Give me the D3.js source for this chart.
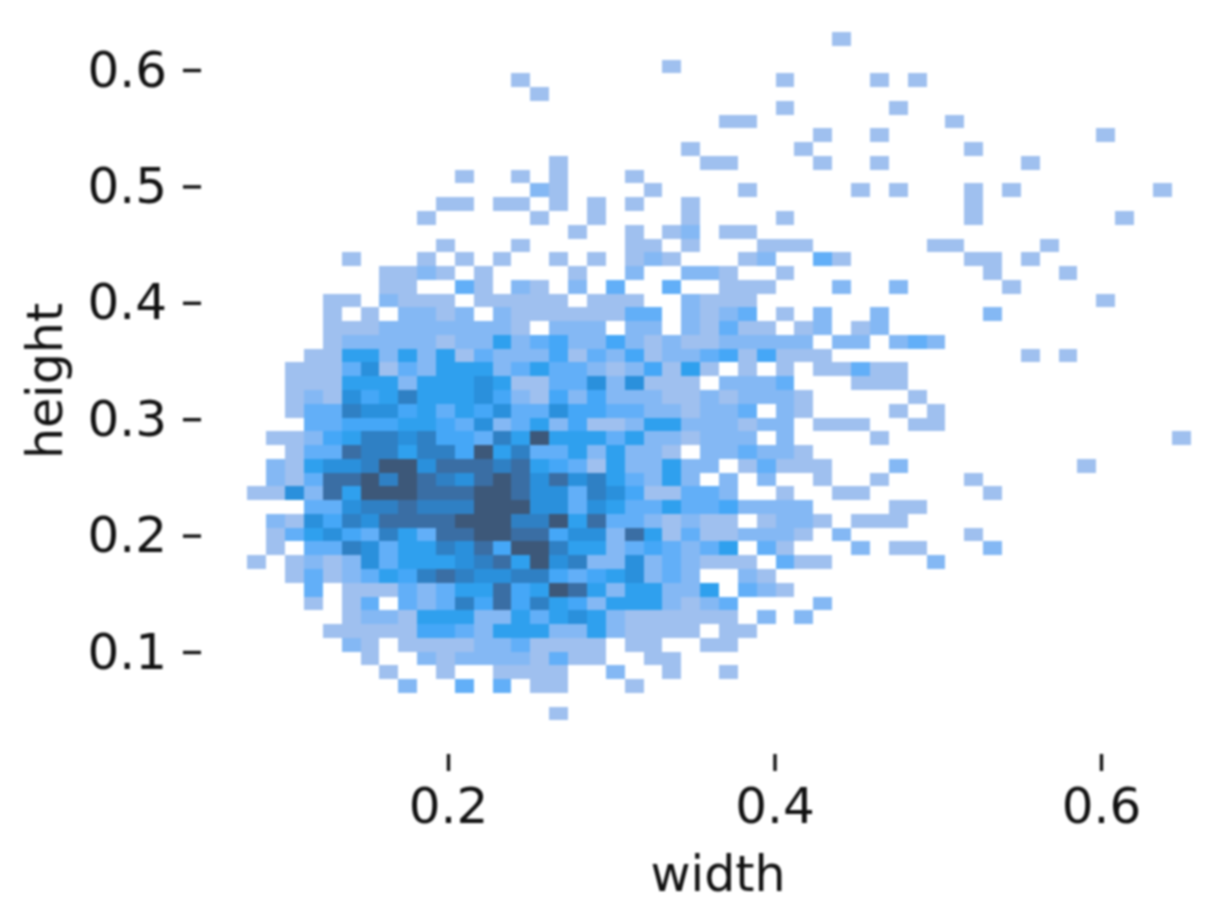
<!DOCTYPE html>
<html>
<head>
<meta charset="utf-8">
<script src="https://cdnjs.cloudflare.com/ajax/libs/d3/7.8.5/d3.min.js"></script>
<style>
html,body{margin:0;padding:0;background:#fff;}
svg{display:block;filter:blur(0.9px);}
text{font-family:"DejaVu Sans",sans-serif;fill:#111;}
</style>
</head>
<body>
<svg id="chart" width="1230" height="919"></svg>
<script>
// Axis labels and ticks
const xLabel = "width";
const yLabel = "height";
const xTicks = [0.2, 0.4, 0.6];
const yTicks = [0.1, 0.2, 0.3, 0.4, 0.5, 0.6];
// Histogram bin extents (data units)
const widthRange = [0.0771, 0.6549];
const heightRange = [0.0412, 0.6326];
// Count shade per bin: one string per height bin (top to bottom), 50 width bins each
const countRows = [
"0000000000 0000000000 0000000000 0100000000 0000000000",
"0000000000 0000000000 0000000000 0000000000 0000000000",
"0000000000 0000000000 0010000000 0000000000 0000000000",
"0000000000 0000100000 0000000010 0001010000 0000000000",
"0000000000 0000010000 0000000000 0000000000 0000000000",
"0000000000 0000000000 0000000010 0000100000 0000000000",
"0000000000 0000000000 0000011000 0000000100 0000000000",
"0000000000 0000000000 0000000000 1001000000 0000010000",
"0000000000 0000000000 0001000001 0000000010 0000000000",
"0000000000 0000001000 0000110000 1001000000 0100000000",
"0000000000 0100101000 1000000000 0000000000 0000000000",
"0000000000 0000021000 0100001000 0010100010 1000000010",
"0000000000 1101101010 1001000000 0000000010 0000000000",
"0000000001 0000010010 0001000010 0000000010 0000001000",
"0000000000 0000000100 1012011000 0000000000 0000000000",
"0000000000 1000100000 1101000111 0000001100 0010000000",
"0000010001 0101001010 1210001200 3100000011 0100000000",
"0000000112 1010000100 2002210010 0000000001 0001000000",
"0000000110 0310210203 0030011100 0200200000 1000000000",
"0000110211 1011111011 1002111000 0000000000 0000010000",
"0000101022 1202111111 3302123010 2002000002 0000000000",
"0000111222 2222102220 2202131101 2012000000 0000000000",
"0000122222 1225234224 2121122222 0220232000 0000000000",
"0001155252 5132224132 4122341411 1000000000 0101000000",
"0011136132 5552353321 2415101010 1131100000 0000000000",
"0011155525 5565113362 6111022230 0011100000 0000000000",
"0012164575 5564214242 2211212221 0000010000 0000000000",
"0013376645 3546336443 3221223021 0000101000 0000000000",
"0003344455 4362352411 2552221220 1110011000 0000000000",
"0112457767 4437595553 5221222020 0001000000 0000000001",
"0013387757 7495733525 2210223221 0000000000 0000000000",
"0215667996 8887854315 2252201311 1000200000 0000100000",
"0213889798 7689868675 3252020200 1001000010 0000000000",
"1162859998 8899866376 4113320010 0110000001 0000000000",
"0003367787 7799966365 3353342222 0000110000 0000000000",
"0216476888 8999779583 3212110122 1011100000 0000000000",
"0135643753 8899884662 8513112221 0200000010 0000000000",
"0103376355 7684997552 3432350310 0020110002 0000000000",
"1012126355 5678596722 6232111031 1000002000 0000000000",
"0013123547 8766774345 6232002100 0000000000 0000000000",
"0003011132 3558459852 5522503210 0000000000 0000000000",
"0001013032 3748475425 5521230000 2000000000 0000000000",
"0000012215 5522535652 1111110202 0000000000 0000000000",
"0000111114 4325552252 1111011000 0000000000 0000000000",
"0000021011 1122311110 1100110000 0000000000 0000000000",
"0000001002 1222213110 0110000000 0000000000 0000000000",
"0000000100 1001111002 0010010000 0000000000 0000000000",
"0000000020 0303011000 1000000000 0000000000 0000000000",
"0000000000 0000000000 0000000000 0000000000 0000000000",
"0000000000 0000001000 0000000000 0000000000 0000000000"
];
const shadeLevels = [1, 2, 3, 4, 5, 6, 7, 8, 9];
const shadeColors = ["#9fc0ef", "#84b8f4", "#62aff8", "#45a7f7", "#2fa0ee", "#2a90dc", "#2f80c4", "#3a6ea4", "#3d5879"];

const svg = d3.select("#chart");
const x = d3.scaleLinear().domain([0.2, 0.6]).range([448, 1101]);
const y = d3.scaleLinear().domain([0.1, 0.6]).range([652, 70]);
const color = d3.scaleLinear().domain(shadeLevels).range(shadeColors);

const rows = countRows.map(r => Array.from(r.replace(/ /g, ""), Number));
const nRows = rows.length, nCols = rows[0].length;
const xBin = d3.scaleLinear().domain([0, nCols]).range(widthRange);
const yBin = d3.scaleLinear().domain([0, nRows]).range([heightRange[1], heightRange[0]]);

const cells = rows.flatMap((row, r) => row.map((v, c) => ({r, c, v}))).filter(d => d.v > 0);
svg.append("g").selectAll("rect").data(cells).join("rect")
  .attr("x", d => x(xBin(d.c)))
  .attr("y", d => y(yBin(d.r)))
  .attr("width", d => x(xBin(d.c + 1)) - x(xBin(d.c)))
  .attr("height", d => y(yBin(d.r + 1)) - y(yBin(d.r)))
  .attr("fill", d => color(d.v))
  .attr("shape-rendering", "crispEdges");

const xAxis = d3.axisBottom(x).tickValues(xTicks).tickFormat(d3.format(".1f")).tickSize(17).tickPadding(16);
const yAxis = d3.axisLeft(y).tickValues(yTicks).tickFormat(d3.format(".1f")).tickSize(18).tickPadding(16);

const gx = svg.append("g").attr("transform", "translate(0,754)").call(xAxis);
const gy = svg.append("g").attr("transform", "translate(201,0)").call(yAxis);
for (const g of [gx, gy]) {
  g.select(".domain").remove();
  g.selectAll("line").attr("stroke", "#111").attr("stroke-width", 3.4);
  g.selectAll("text").attr("font-size", 50).attr("fill", "#111").style("font-family", '"DejaVu Sans",sans-serif');
}

svg.append("text").attr("x", 718).attr("y", 891).attr("text-anchor", "middle").attr("font-size", 49).text(xLabel);
svg.append("text").attr("transform", "translate(62,381) rotate(-90)").attr("text-anchor", "middle").attr("font-size", 49).text(yLabel);
</script>
</body>
</html>
